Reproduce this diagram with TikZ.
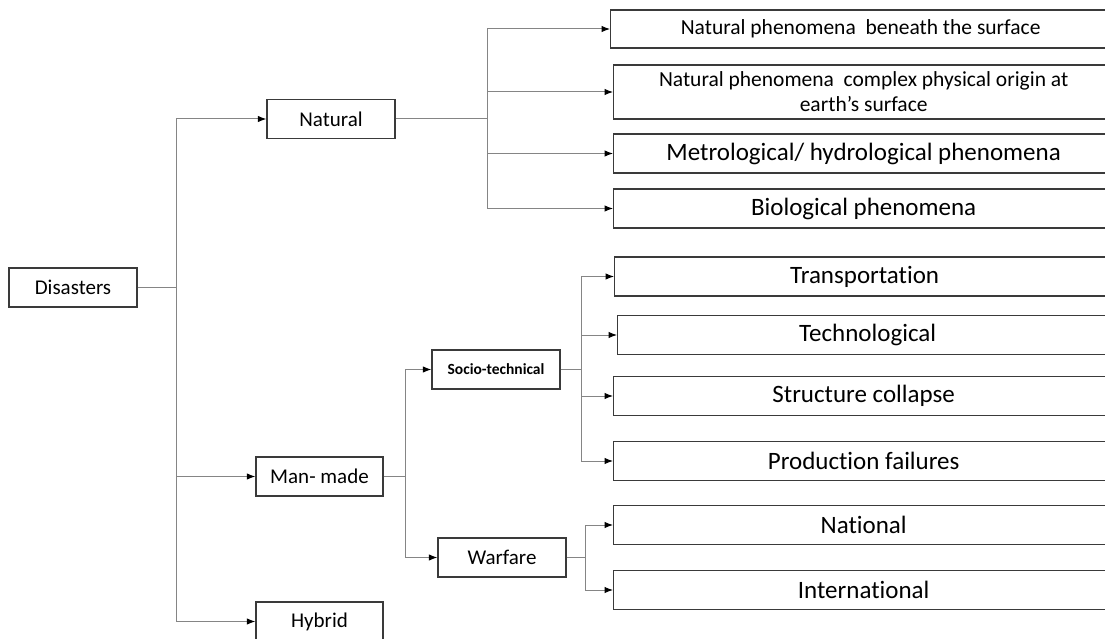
\documentclass[tikz,border=0pt]{standalone}
\usepackage{fontspec}
\setmainfont{Carlito}[Ligatures=NoCommon]
\usetikzlibrary{arrows.meta}
\definecolor{boxline}{HTML}{3A3A3A}
\definecolor{connline}{HTML}{858585}
\begin{document}
\begin{tikzpicture}[x=1pt,y=-1pt,
  box/.style={draw=boxline, line width=1.3pt, rectangle, inner sep=0pt,
    minimum height=39pt, align=center, font=\fontsize{21}{25}\selectfont},
  mid/.style={box, minimum width=128pt},
  wide/.style={box, anchor=west, minimum width=500pt,
    font=\fontsize{25}{29}\selectfont},
  conn/.style={draw=connline, line width=1pt},
  arr/.style={conn, -{Latex[length=8.5pt,width=6.5pt,color=black]}}
]
\useasboundingbox (0,0) rectangle (1105,639);
\clip (0,0) rectangle (1105,639);

% left column
\node[mid] (dis) at (73,287.5) {Disasters};
\node[mid] (nat) at (331,119) {Natural};
\node[mid, minimum width=127pt] (man) at (319.5,476.5) {Man- made};
\node[mid, minimum width=127pt] (hyb) at (319.5,621.5) {Hybrid};

% man-made subgroups
\node[mid, font=\fontsize{15.5}{18}\selectfont\bfseries] (soc) at (496,369.5) {Socio-technical};
\node[mid] (war) at (502,557.5) {Warfare};

% natural leaves
\node[wide, font=\fontsize{21.5}{25}\selectfont, minimum height=38pt] (n1) at (610,29)
  {Natural phenomena~ beneath the surface};
\node[wide, font=\fontsize{21.5}{25}\selectfont, minimum height=54pt] (n2) at (613,92)
  {Natural phenomena~ complex physical origin at\\earth’s surface};
\node[wide] (n3) at (613,153.5) {Metrological/ hydrological phenomena};
\node[wide] (n4) at (613,208.5) {Biological phenomena};

% socio-technical leaves
\node[wide] (s1) at (614,276.5) {Transportation};
\node[wide] (s2) at (617,335) {Technological};
\node[wide] (s3) at (613,396) {Structure collapse};
\node[wide] (s4) at (613,461) {Production failures};

% warfare leaves
\node[wide] (w1) at (613,525) {National};
\node[wide] (w2) at (613,590) {International};

% junction columns
\coordinate (jt) at (176,0);
\coordinate (jn) at (487,0);
\coordinate (jm) at (405,0);
\coordinate (js) at (581,0);
\coordinate (jw) at (585,0);

% Disasters -> main classes
\draw[conn] (dis.east) -- (jt |- dis.east);
\draw[conn] (jt |- nat.west) -- (jt |- hyb.west);
\foreach \t in {nat,man,hyb} \draw[arr] (jt |- \t.west) -- (\t.west);

% Natural -> phenomena
\draw[conn] (nat.east) -- (jn |- nat.east);
\draw[conn] (jn |- n1.west) -- (jn |- n4.west);
\foreach \t in {n1,n2,n3,n4} \draw[arr] (jn |- \t.west) -- (\t.west);

% Man-made -> subgroups
\draw[conn] (man.east) -- (jm |- man.east);
\draw[conn] (jm |- soc.west) -- (jm |- war.west);
\foreach \t in {soc,war} \draw[arr] (jm |- \t.west) -- (\t.west);

% Socio-technical -> leaves
\draw[conn] (soc.east) -- (js |- soc.east);
\draw[conn] (js |- s1.west) -- (js |- s4.west);
\foreach \t in {s1,s2,s3,s4} \draw[arr] (js |- \t.west) -- (\t.west);

% Warfare -> leaves
\draw[conn] (war.east) -- (jw |- war.east);
\draw[conn] (jw |- w1.west) -- (jw |- w2.west);
\foreach \t in {w1,w2} \draw[arr] (jw |- \t.west) -- (\t.west);
\end{tikzpicture}
\end{document}
